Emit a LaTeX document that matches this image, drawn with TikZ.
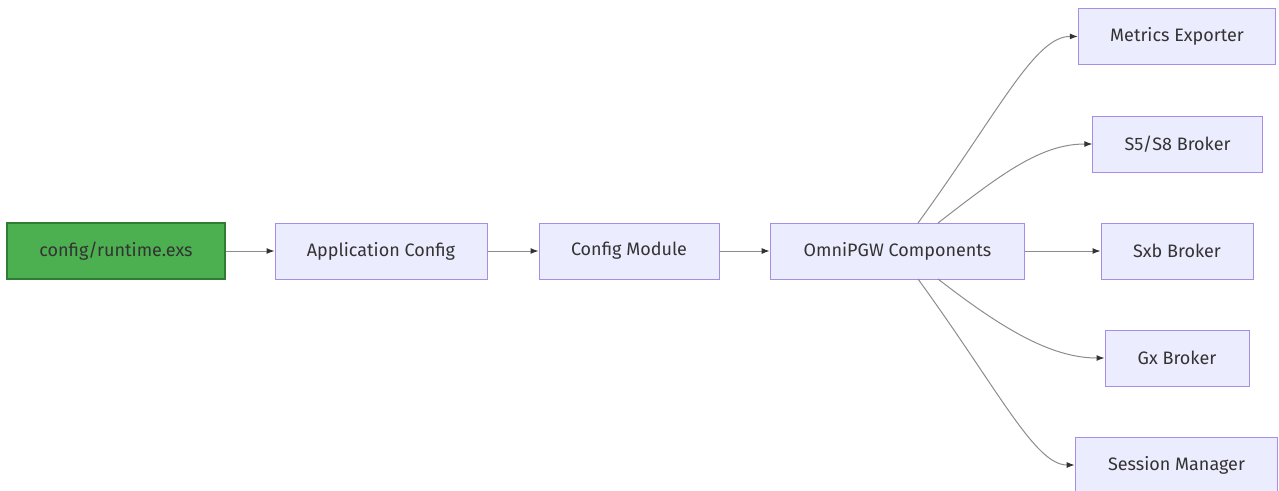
\documentclass[tikz,border=0pt]{standalone}
\usepackage{fontspec}
\setmainfont{Fira Sans}
\usetikzlibrary{arrows.meta}
\definecolor{nodefill}{HTML}{ECECFF}
\definecolor{nodeborder}{HTML}{A58EE6}
\definecolor{greenfill}{HTML}{4CAF50}
\definecolor{greenborder}{HTML}{2E7D32}
\definecolor{edgecol}{HTML}{8C8C8C}
\definecolor{tipcol}{HTML}{333333}
\definecolor{textcol}{HTML}{333333}
\tikzset{
  box/.style={draw=nodeborder, fill=nodefill, line width=0.75pt, minimum height=42pt, inner sep=0pt, text=textcol, font=\fontsize{13.5}{15}\selectfont},
  greenbox/.style={box, draw=greenborder, fill=greenfill, line width=1.3pt},
  edge/.style={draw=edgecol, line width=0.75pt, -{Latex[length=6pt,width=4.5pt,color=tipcol]}},
}
\begin{document}
\begin{tikzpicture}[x=0.75pt,y=-0.75pt]
\useasboundingbox (0,0) rectangle (1279,490);
\node[greenbox, minimum width=163pt] (cfg) at (116,251) {config/runtime.exs};
\node[box, minimum width=159pt] (app) at (381,251) {Application Config};
\node[box, minimum width=135pt] (mod) at (629,251) {Config Module};
\node[box, minimum width=191pt] (omni) at (897.5,251) {OmniPGW Components};
\node[box, minimum width=148pt] (met) at (1177,36.5) {Metrics Exporter};
\node[box, minimum width=127pt] (s5) at (1177.5,144) {S5/S8 Broker};
\node[box, minimum width=114pt] (sxb) at (1177,251) {Sxb Broker};
\node[box, minimum width=108pt] (gx) at (1177,358) {Gx Broker};
\node[box, minimum width=152pt] (sess) at (1176.5,465) {Session Manager};
\coordinate (o1) at (918,223);
\coordinate (o2) at (938,223);
\coordinate (o3) at (938,279);
\coordinate (o4) at (918,279);
\draw[edge] (cfg) -- (app);
\draw[edge] (app) -- (mod);
\draw[edge] (mod) -- (omni);
\draw[edge] (omni) -- (sxb);
\draw[edge] (o1) .. controls (1000,110) and (1035,36) .. (met.west);
\draw[edge] (o2) .. controls (1000,175) and (1040,144) .. (s5.west);
\draw[edge] (o3) .. controls (1000,327) and (1050,358) .. (gx.west);
\draw[edge] (o4) .. controls (1000,392) and (1035,465) .. (sess.west);
\end{tikzpicture}
\end{document}
